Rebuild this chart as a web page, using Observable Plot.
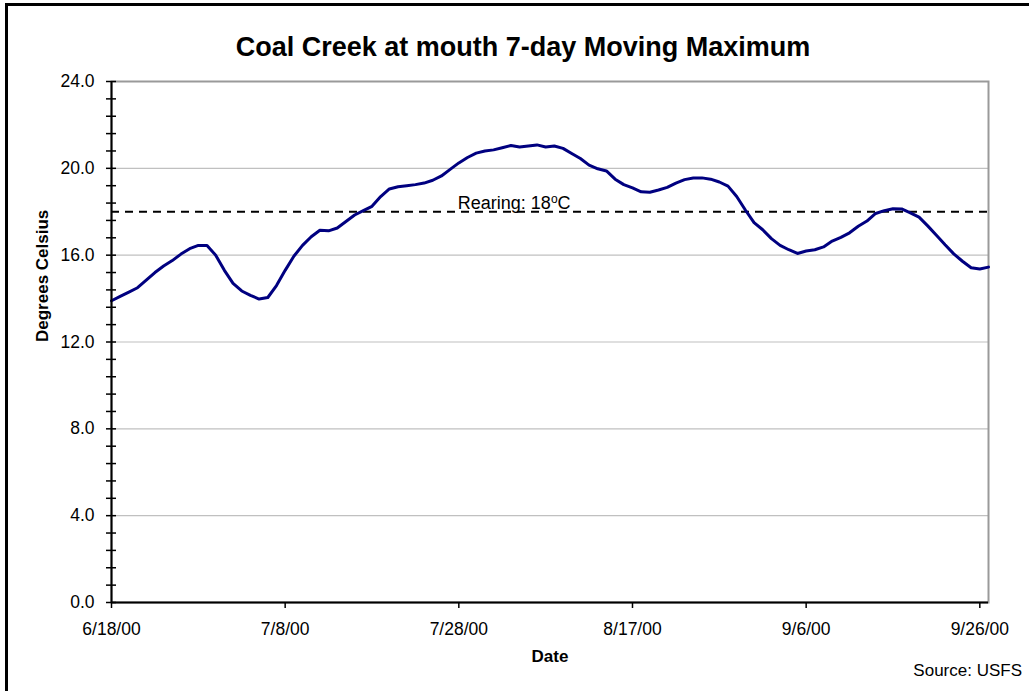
<!DOCTYPE html>
<html>
<head>
<meta charset="utf-8">
<script src="https://cdn.jsdelivr.net/npm/d3@7"></script>
<script src="https://cdn.jsdelivr.net/npm/@observablehq/plot@0.6"></script>
<style>
  html, body { margin: 0; padding: 0; background: #fff; overflow: hidden; }
  #wrap { position: relative; width: 1029px; height: 691px; font-family: "Liberation Sans", Arial, sans-serif; color: #000; }
  #outer { position: absolute; left: 5px; top: 3px; width: 1100px; height: 800px; border-left: 3px solid #000; border-top: 3px solid #000; box-sizing: border-box; }
  #title { position: absolute; left: 0; top: 34px; width: 1046px; text-align: center; font-weight: bold; font-size: 27px; line-height: 27px; }
  #source { position: absolute; right: 7px; top: 662px; font-size: 17px; line-height: 17px; }
  #chart { position: absolute; left: 0; top: 0; }
</style>
</head>
<body>
<div id="wrap">
  <div id="outer"></div>
  <div id="chart"></div>
  <div id="title">Coal Creek at mouth 7-day Moving Maximum</div>
  <div id="source">Source: USFS</div>
</div>
<script>
// ---- Data ----
const startDate = "2000-06-18";
const endDate = "2000-09-27";
// Daily 7-day moving maximum water temperature (°C), 6/18/00 .. 9/27/00
const tempMax = [
  13.9, 14.1, 14.3, 14.5, 14.85, 15.2, 15.5, 15.75, 16.05, 16.3,
  16.45, 16.45, 16.0, 15.3, 14.7, 14.35, 14.15, 13.98, 14.05, 14.6,
  15.3, 15.95, 16.45, 16.85, 17.15, 17.12, 17.25, 17.55, 17.85, 18.05,
  18.25, 18.7, 19.05, 19.15, 19.2, 19.25, 19.32, 19.45, 19.65, 19.95,
  20.25, 20.5, 20.7, 20.8, 20.85, 20.95, 21.05, 20.98, 21.03, 21.08,
  20.98, 21.03, 20.92, 20.68, 20.45, 20.15, 19.98, 19.88, 19.5, 19.25,
  19.1, 18.92, 18.9, 19.0, 19.12, 19.32, 19.48, 19.55, 19.56, 19.5,
  19.37, 19.18, 18.7, 18.08, 17.5, 17.17, 16.76, 16.45, 16.25, 16.08,
  16.19, 16.25, 16.38, 16.65, 16.82, 17.03, 17.33, 17.57, 17.92, 18.05,
  18.14, 18.13, 17.95, 17.75, 17.35, 16.92, 16.48, 16.06, 15.72, 15.42,
  15.36, 15.45
];
const yTicks = [0, 4, 8, 12, 16, 20, 24];
const yGridTicks = [4, 8, 12, 16, 20];
const yMinorTicks = d3.range(0, 24.001, 0.8);
const xTickDates = ["2000-06-18", "2000-07-08", "2000-07-28", "2000-08-17", "2000-09-06", "2000-09-26"];
const xTickLabels = ["6/18/00", "7/8/00", "7/28/00", "8/17/00", "9/6/00", "9/26/00"];
const rearingThreshold = 18;
const rearingLabel = [{date: "2000-07-28", value: 18, text: "Rearing: 18"}];

// ---- Build ----
const start = new Date(startDate);
const end = new Date(endDate);
const series = tempMax.map((v, i) => ({date: d3.utcDay.offset(start, i), value: v}));
const xTicks = xTickDates.map(d => new Date(d));
const labelData = rearingLabel.map(d => ({...d, date: new Date(d.date)}));
const fmtX = d => xTickLabels[xTicks.findIndex(t => +t === +d)];

const chart = Plot.plot({
  width: 1029,
  height: 691,
  marginLeft: 111,
  marginRight: 41,
  marginTop: 81,
  marginBottom: 89,
  style: {fontFamily: "'Liberation Sans', Arial, sans-serif", fontSize: "17px", color: "#000", background: "transparent", overflow: "visible"},
  x: {type: "utc", domain: [start, end]},
  y: {domain: [0, 24]},
  marks: [
    Plot.gridY(yGridTicks, {stroke: "#c0c0c0", strokeOpacity: 1, strokeWidth: 1.2}),
    Plot.frame({stroke: "#9a9a9a", strokeWidth: 2}),
    Plot.ruleY([rearingThreshold], {stroke: "#000", strokeWidth: 2, strokeDasharray: "8,6"}),
    Plot.text(labelData, {x: "date", y: "value", text: "text", textAnchor: "start", lineAnchor: "middle", dy: -9, dx: -1, fontSize: 18}),
    Plot.line(series, {x: "date", y: "value", stroke: "#000080", strokeWidth: 3, strokeLinejoin: "round"}),
    Plot.ruleX([start], {stroke: "#000", strokeWidth: 2}),
    Plot.ruleY([0], {stroke: "#000", strokeWidth: 2}),
    Plot.axisY(yMinorTicks, {anchor: "left", tickSize: 10, dx: 5, tickFormat: () => "", label: null, stroke: "#000", strokeWidth: 1.5}),
    Plot.axisY(yTicks, {anchor: "left", tickSize: 0, tickPadding: 17, tickFormat: d => d.toFixed(1), label: null, fontSize: 17.5}),
    Plot.axisX(xTicks, {anchor: "bottom", tickSize: 6, tickPadding: 14, tickFormat: fmtX, label: null, fontSize: 17.5, stroke: "#000", strokeWidth: 1.5}),
    Plot.text(["Degrees Celsius"], {frameAnchor: "left", rotate: -90, dx: -69, fontWeight: "bold", fontSize: 17}),
    Plot.text(["Date"], {frameAnchor: "bottom", dy: 59, fontWeight: "bold", fontSize: 17})
  ]
});

document.getElementById("chart").appendChild(chart);

// superscript "o" in the rearing label
d3.select(chart).selectAll("text").filter(function() { return this.textContent === "Rearing: 18"; })
  .each(function() {
    const t = d3.select(this);
    t.append("tspan").attr("dy", "-6").attr("font-size", "12px").text("o");
    t.append("tspan").attr("dy", "6").text("C");
  });
</script>
</body>
</html>
